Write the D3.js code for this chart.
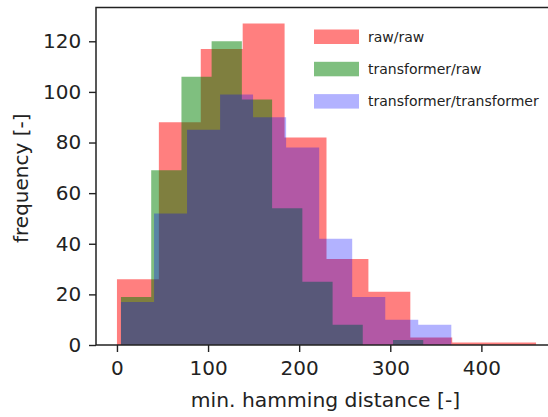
<!DOCTYPE html>
<html>
<head>
<meta charset="utf-8">
<script src="https://cdn.jsdelivr.net/npm/d3@7"></script>
<style>
  html, body { margin: 0; padding: 0; background: #fff; }
  svg { display: block; font-family: "DejaVu Sans", sans-serif; }
</style>
</head>
<body>
<svg id="chart" width="548" height="417"></svg>
<script>
// ---- data ----
const seriesNames = ["raw/raw", "transformer/raw", "transformer/transformer"];
const seriesColors = ["red", "green", "blue"];
const seriesAlpha = [0.5, 0.5, 0.3];

const rawRawEdges = [0, 46, 92, 138, 184, 230, 276, 322, 368, 414, 460];
const rawRawCounts = [26, 88, 117, 127, 82, 34, 21, 3, 1, 1];

const transRawEdges = [4.4, 37.6, 70.8, 103.9, 137.1, 170.3, 203.5, 236.7, 269.8, 303.0, 336.2];
const transRawCounts = [19, 69, 106, 120, 97, 54, 25, 8, 0, 2];

const transTransEdges = [4.4, 40.7, 76.9, 113.2, 149.4, 185.7, 222.0, 258.2, 294.5, 330.7, 367.0];
const transTransCounts = [17, 52, 85, 99, 90, 78, 42, 19, 10, 8];

const xTicks = [0, 100, 200, 300, 400];
const yTicks = [0, 20, 40, 60, 80, 100, 120];
const xLabel = "min. hamming distance [-]";
const yLabel = "frequency [-]";

// ---- layout ----
const svg = d3.select("#chart");
const mLeft = 96, mRight = 557, mTop = 7.5, mBottom = 345;

const x = d3.scaleLinear().domain([-23, 483]).range([mLeft, mRight]);
const y = d3.scaleLinear().domain([0, 133.35]).range([mBottom, mTop]);

const series = [
  { edges: rawRawEdges, counts: rawRawCounts },
  { edges: transRawEdges, counts: transRawCounts },
  { edges: transTransEdges, counts: transTransCounts }
];

const area = d3.area()
  .x(d => x(d[0]))
  .y0(y(0))
  .y1(d => y(d[1]))
  .curve(d3.curveStepAfter);

series.forEach((s, i) => {
  const pts = s.counts.map((c, j) => [s.edges[j], c]);
  pts.push([s.edges[s.edges.length - 1], s.counts[s.counts.length - 1]]);
  svg.append("path")
    .attr("d", area(pts))
    .attr("fill", seriesColors[i])
    .attr("fill-opacity", seriesAlpha[i]);
});

// ---- axes ----
const xAxis = d3.axisBottom(x).tickValues(xTicks).tickSize(7).tickPadding(9).tickSizeOuter(0);
const yAxis = d3.axisLeft(y).tickValues(yTicks).tickSize(7).tickPadding(7.8).tickSizeOuter(0);

const gx = svg.append("g").attr("transform", `translate(0,${mBottom})`).call(xAxis);
const gy = svg.append("g").attr("transform", `translate(${mLeft},0)`).call(yAxis);
[gx, gy].forEach(g => {
  g.select(".domain").remove();
  g.selectAll(".tick line").attr("stroke", "#222").attr("stroke-width", 1.4);
  g.selectAll(".tick text").attr("fill", "#222").style("font-size", "20px").style("font-family", "DejaVu Sans");
});

// frame (spines)
svg.append("rect")
  .attr("x", mLeft).attr("y", mTop)
  .attr("width", mRight - mLeft).attr("height", mBottom - mTop)
  .attr("fill", "none").attr("stroke", "#222").attr("stroke-width", 1.5);

// labels
svg.append("text")
  .attr("x", 325.5).attr("y", 406.5)
  .attr("text-anchor", "middle").attr("fill", "#222")
  .style("font-size", "20.3px")
  .text(xLabel);

svg.append("text")
  .attr("transform", `translate(28,${(mTop + mBottom) / 2 + 2}) rotate(-90)`)
  .attr("text-anchor", "middle").attr("fill", "#222")
  .style("font-size", "20px")
  .text(yLabel);

// legend
const lg = svg.append("g").attr("transform", "translate(314,29.5)");
seriesNames.forEach((name, i) => {
  const row = lg.append("g").attr("transform", `translate(0,${i * 32.3})`);
  row.append("rect").attr("width", 45).attr("height", 14.5)
    .attr("fill", seriesColors[i]).attr("fill-opacity", seriesAlpha[i]);
  row.append("text").attr("x", 54).attr("y", 12.3)
    .attr("fill", "#222").style("font-size", "14px").text(name);
});
</script>
</body>
</html>
